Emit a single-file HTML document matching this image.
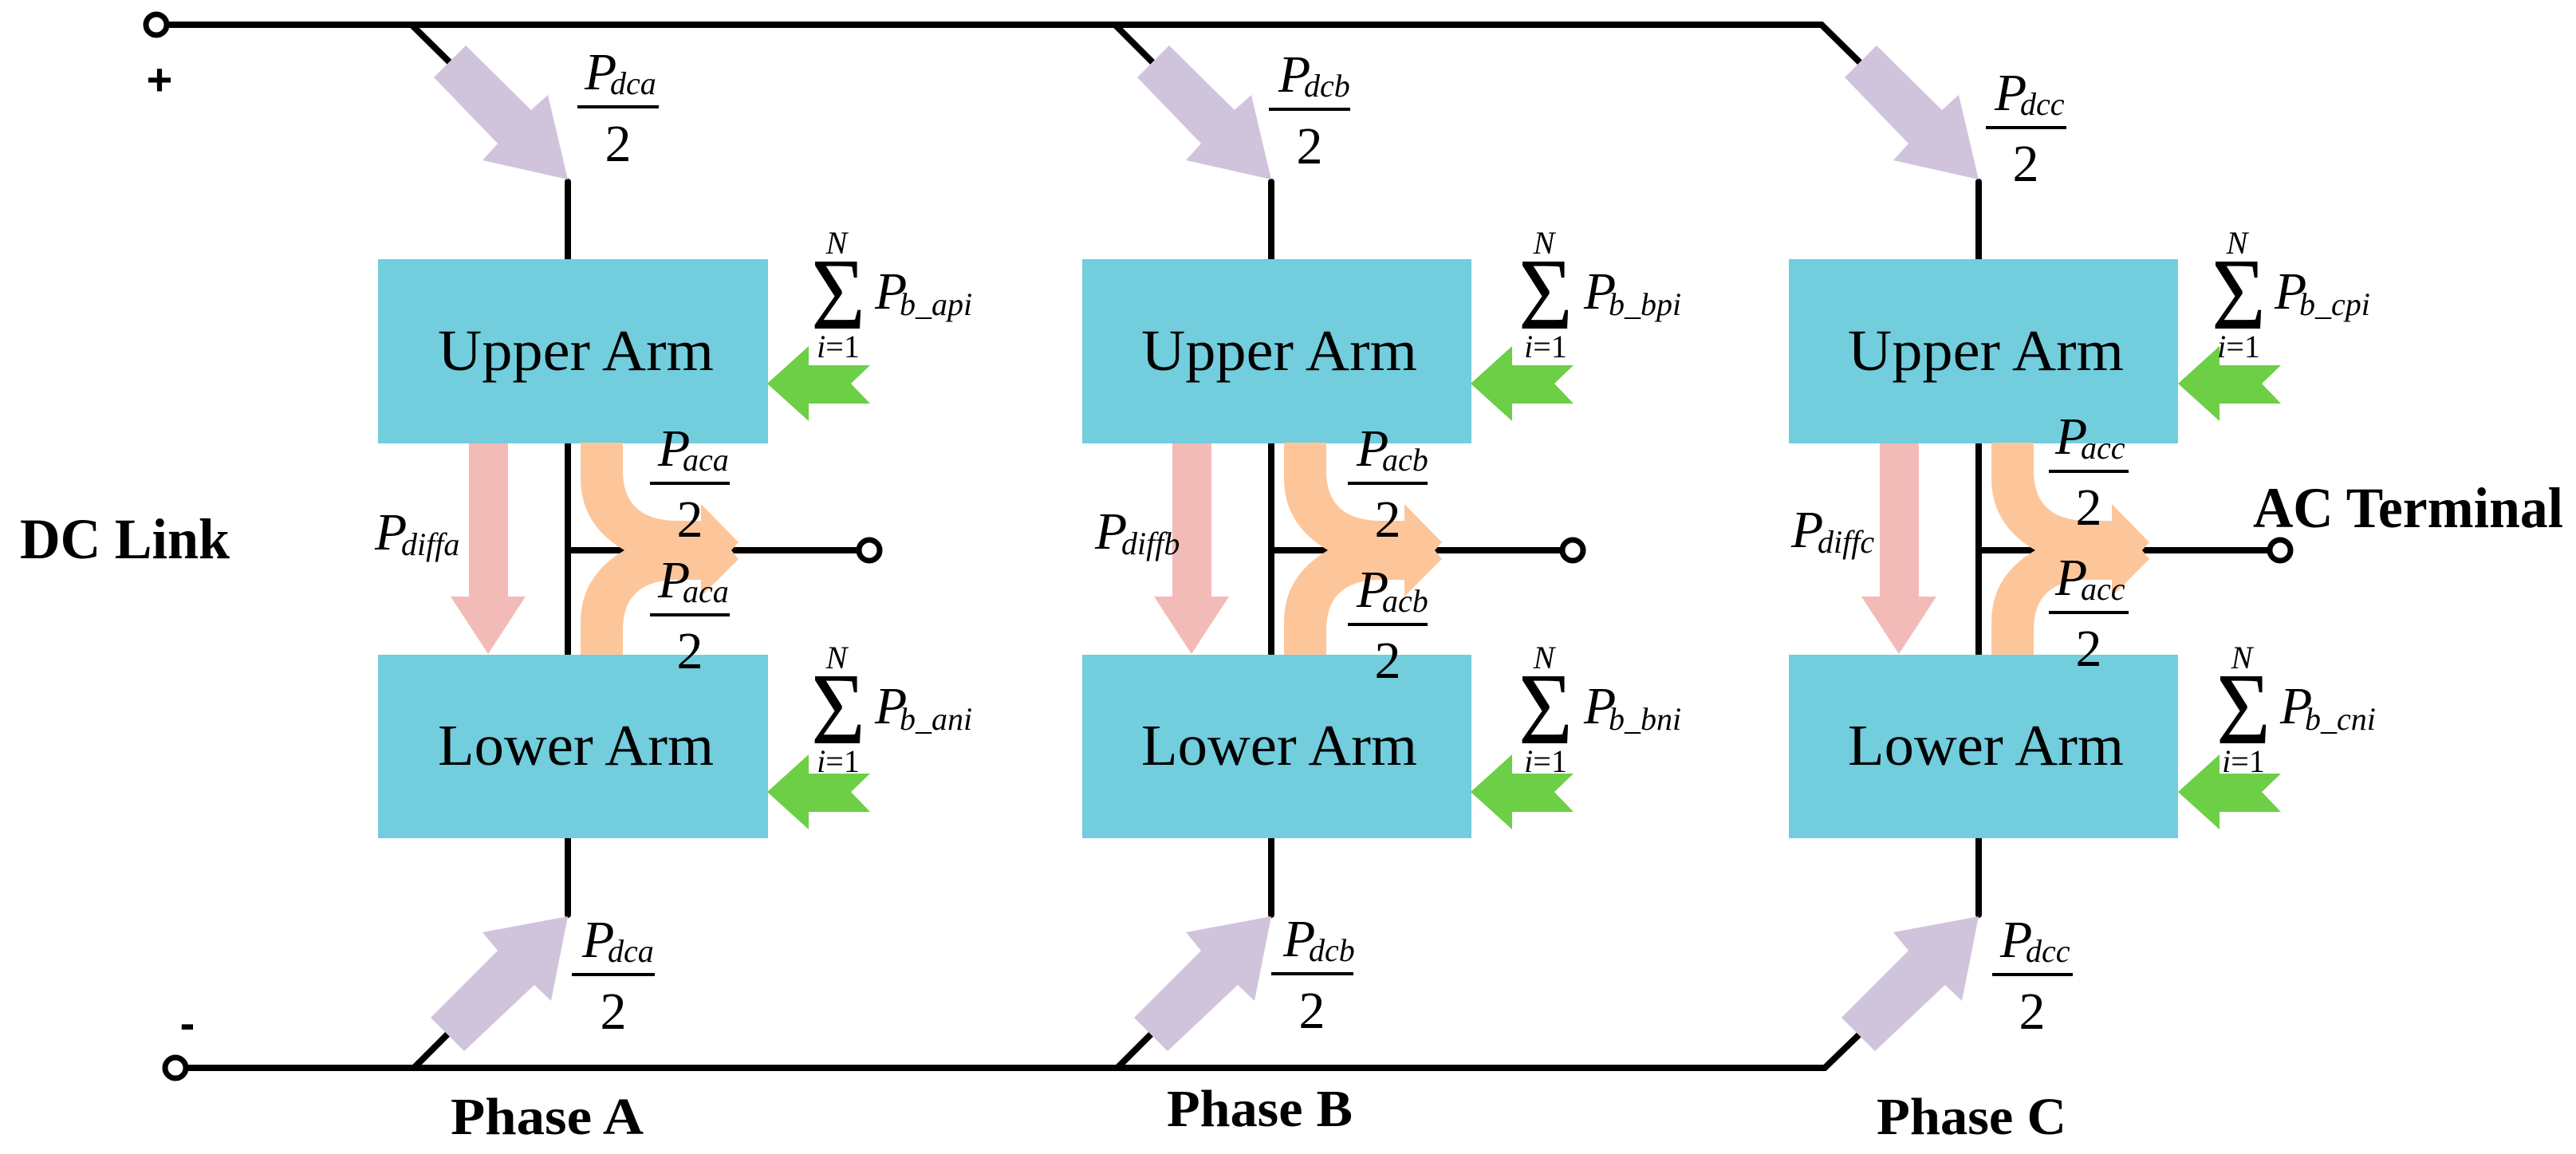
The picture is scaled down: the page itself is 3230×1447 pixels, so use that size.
<!DOCTYPE html>
<html><head><meta charset="utf-8"><style>
html,body{margin:0;padding:0;background:#fff}
svg{display:block}
.m{font-family:"Liberation Serif",serif;font-style:italic}
.r{font-family:"Liberation Serif",serif}
.b{font-family:"Liberation Serif",serif;font-weight:bold}
</style></head><body>
<svg width="3230" height="1447" viewBox="0 0 3230 1447" xmlns="http://www.w3.org/2000/svg">
<defs>
<g id="purT"><polygon points="584,57 666,138 687,119 712,225 605,201 624,180 544,97" fill="#D0C4DC"/></g>
<g id="purB"><polygon points="712,1149 605,1169 624,1192 540,1276 582,1318 670,1235 691,1255" fill="#D0C4DC"/></g>
<g id="pink"><polygon points="588,556 637,556 637,748 659,748 612,820 565,748 588,748" fill="#F2BBB8"/></g>
<g id="green"><polygon points="962,481 1014,434 1014,458 1091,458 1067,481 1091,506 1014,506 1014,528" fill="#6CCF45"/></g>
<g id="orange"><path d="M728,555 L781,555 L781,590 Q781,653 850,653 L879,653 L879,632 L926,680 L917,690 L926,701 L879,748 L879,727 L850,727 Q781,727 781,790 L781,821 L728,821 L728,780 Q728,722 783,690 Q728,658 728,600 Z" fill="#FDC69A"/></g>
</defs>

<!-- bus lines -->
<g stroke="#000" stroke-width="8" fill="none" stroke-linejoin="miter">
<polyline points="209,31 2284,31 2350,96"/>
<line x1="516" y1="31" x2="582" y2="96"/>
<line x1="1398" y1="31" x2="1463" y2="96"/>
<polyline points="233,1339 2288,1339 2350,1279"/>
<line x1="519" y1="1339" x2="582" y2="1276"/>
<line x1="1401" y1="1339" x2="1463" y2="1277"/>
</g>
<circle cx="196" cy="31" r="13" fill="#fff" stroke="#000" stroke-width="7"/>
<circle cx="220" cy="1339" r="13" fill="#fff" stroke="#000" stroke-width="7"/>
<text x="200" y="119" class="b" font-size="56" text-anchor="middle" style="font-family:'Liberation Sans',sans-serif;font-weight:bold">+</text>
<text x="235" y="1302" font-size="56" text-anchor="middle" style="font-family:'Liberation Sans',sans-serif;font-weight:bold">-</text>

<text x="25" y="700" class="b" font-size="72" textLength="263" lengthAdjust="spacingAndGlyphs">DC Link</text>
<text x="2825" y="661" class="b" font-size="72" textLength="389" lengthAdjust="spacingAndGlyphs">AC Terminal</text>

<!-- PHASES: offsets 0, 882, 1769 -->
<!-- Phase A -->
<g>
<g stroke="#000" stroke-width="8" stroke-linecap="round">
<line x1="712" y1="228" x2="712" y2="326"/>
<line x1="712" y1="553" x2="712" y2="820"/>
<line x1="712" y1="1050" x2="712" y2="1147"/>
<line x1="712" y1="690" x2="780" y2="690"/>
<line x1="920" y1="690" x2="1077" y2="690"/>
</g>
<circle cx="1090" cy="690" r="13" fill="#fff" stroke="#000" stroke-width="7"/>
<rect x="474" y="325" width="489" height="231" fill="#72CDDD"/>
<rect x="474" y="821" width="489" height="230" fill="#72CDDD"/>
<use href="#purT"/><use href="#purB"/><use href="#pink"/><use href="#orange"/>
<use href="#green"/><use href="#green" transform="translate(0,512)"/>
</g>
<g transform="translate(882,0)">
<g stroke="#000" stroke-width="8" stroke-linecap="round">
<line x1="712" y1="228" x2="712" y2="326"/>
<line x1="712" y1="553" x2="712" y2="820"/>
<line x1="712" y1="1050" x2="712" y2="1147"/>
<line x1="712" y1="690" x2="780" y2="690"/>
<line x1="920" y1="690" x2="1077" y2="690"/>
</g>
<circle cx="1090" cy="690" r="13" fill="#fff" stroke="#000" stroke-width="7"/>
<rect x="475" y="325" width="488" height="231" fill="#72CDDD"/>
<rect x="475" y="821" width="488" height="230" fill="#72CDDD"/>
<use href="#purT"/><use href="#purB"/><use href="#pink"/><use href="#orange"/>
<use href="#green"/><use href="#green" transform="translate(0,512)"/>
</g>
<g transform="translate(1769,0)">
<g stroke="#000" stroke-width="8" stroke-linecap="round">
<line x1="712" y1="228" x2="712" y2="326"/>
<line x1="712" y1="553" x2="712" y2="820"/>
<line x1="712" y1="1050" x2="712" y2="1147"/>
<line x1="712" y1="690" x2="780" y2="690"/>
<line x1="920" y1="690" x2="1077" y2="690"/>
</g>
<circle cx="1090" cy="690" r="13" fill="#fff" stroke="#000" stroke-width="7"/>
<rect x="474" y="325" width="488" height="231" fill="#72CDDD"/>
<rect x="474" y="821" width="488" height="230" fill="#72CDDD"/>
<use href="#purT"/><use href="#purB"/><use href="#pink"/><use href="#orange"/>
<use href="#green"/><use href="#green" transform="translate(0,512)"/>
</g>

<!-- Box labels -->
<g class="r" font-size="73" text-anchor="middle">
<text x="722" y="464" textLength="346" lengthAdjust="spacingAndGlyphs">Upper Arm</text>
<text x="722" y="959" textLength="346" lengthAdjust="spacingAndGlyphs">Lower Arm</text>
<text x="1604" y="464" textLength="346" lengthAdjust="spacingAndGlyphs">Upper Arm</text>
<text x="1604" y="959" textLength="346" lengthAdjust="spacingAndGlyphs">Lower Arm</text>
<text x="2490" y="464" textLength="346" lengthAdjust="spacingAndGlyphs">Upper Arm</text>
<text x="2490" y="959" textLength="346" lengthAdjust="spacingAndGlyphs">Lower Arm</text>
</g>

<!-- Phase labels -->
<g class="b" font-size="66">
<text x="565" y="1422" textLength="242" lengthAdjust="spacingAndGlyphs">Phase A</text>
<text x="1463" y="1412" textLength="233" lengthAdjust="spacingAndGlyphs">Phase B</text>
<text x="2353" y="1422" textLength="238" lengthAdjust="spacingAndGlyphs">Phase C</text>
</g>

<!-- Fractions -->
<g stroke="#000" stroke-width="4">
<line x1="724" y1="134" x2="826" y2="134"/>
<line x1="1591" y1="137" x2="1693" y2="137"/>
<line x1="2490" y1="160" x2="2591" y2="160"/>
<line x1="717" y1="1222" x2="821" y2="1222"/>
<line x1="1594" y1="1221" x2="1697" y2="1221"/>
<line x1="2498" y1="1222" x2="2599" y2="1222"/>
<line x1="815" y1="606" x2="915" y2="606"/>
<line x1="815" y1="771" x2="915" y2="771"/>
<line x1="1690" y1="606" x2="1790" y2="606"/>
<line x1="1690" y1="783" x2="1790" y2="783"/>
<line x1="2569" y1="591" x2="2669" y2="591"/>
<line x1="2569" y1="768" x2="2669" y2="768"/>
</g>
<g class="m" font-size="66">
<text x="733" y="112">P</text>
<text x="1603" y="115">P</text>
<text x="2501" y="138">P</text>
<text x="730" y="1200">P</text>
<text x="1609" y="1199">P</text>
<text x="2508" y="1200">P</text>
<text x="825" y="584">P</text>
<text x="825" y="749">P</text>
<text x="1701" y="584">P</text>
<text x="1701" y="761">P</text>
<text x="2577" y="569">P</text>
<text x="2577" y="746">P</text>
<text x="470" y="689">P</text>
<text x="1373" y="688">P</text>
<text x="2246" y="686">P</text>
</g>
<g class="m" font-size="40">
<text x="765" y="118">dca</text>
<text x="1635" y="121">dcb</text>
<text x="2533" y="144">dcc</text>
<text x="762" y="1206">dca</text>
<text x="1641" y="1205">dcb</text>
<text x="2540" y="1206">dcc</text>
<text x="856" y="590">aca</text>
<text x="856" y="755">aca</text>
<text x="1733" y="590">acb</text>
<text x="1733" y="767">acb</text>
<text x="2609" y="575">acc</text>
<text x="2609" y="752">acc</text>
<text x="503" y="696">diffa</text>
<text x="1406" y="695">diffb</text>
<text x="2279" y="693">diffc</text>
</g>
<g class="r" font-size="66" text-anchor="middle">
<text x="775" y="202">2</text>
<text x="1642" y="205">2</text>
<text x="2540" y="227">2</text>
<text x="769" y="1290">2</text>
<text x="1645" y="1289">2</text>
<text x="2548" y="1290">2</text>
<text x="865" y="673">2</text>
<text x="865" y="838">2</text>
<text x="1740" y="673">2</text>
<text x="1740" y="850">2</text>
<text x="2619" y="658">2</text>
<text x="2619" y="835">2</text>
</g>

<!-- Sums: sigma left x, y top -->
<g id="sums">
<!-- A upper -->
<g transform="translate(1017,0)">
<text x="32" y="318" class="m" font-size="40" text-anchor="middle">N</text>
<text x="0" y="412" class="r" font-size="128" textLength="68" lengthAdjust="spacingAndGlyphs">Σ</text>
<text x="34" y="448" class="r" font-size="40" text-anchor="middle"><tspan class="m">i</tspan>=1</text>
<text x="80" y="387" class="m" font-size="66">P</text>
<text x="111" y="395" class="m" font-size="40">b_api</text>
</g>
<g transform="translate(1017,520)">
<text x="32" y="318" class="m" font-size="40" text-anchor="middle">N</text>
<text x="0" y="412" class="r" font-size="128" textLength="68" lengthAdjust="spacingAndGlyphs">Σ</text>
<text x="34" y="448" class="r" font-size="40" text-anchor="middle"><tspan class="m">i</tspan>=1</text>
<text x="80" y="387" class="m" font-size="66">P</text>
<text x="111" y="395" class="m" font-size="40">b_ani</text>
</g>
<g transform="translate(1904,0)">
<text x="32" y="318" class="m" font-size="40" text-anchor="middle">N</text>
<text x="0" y="412" class="r" font-size="128" textLength="68" lengthAdjust="spacingAndGlyphs">Σ</text>
<text x="34" y="448" class="r" font-size="40" text-anchor="middle"><tspan class="m">i</tspan>=1</text>
<text x="82" y="387" class="m" font-size="66">P</text>
<text x="113" y="395" class="m" font-size="40">b_bpi</text>
</g>
<g transform="translate(1904,520)">
<text x="32" y="318" class="m" font-size="40" text-anchor="middle">N</text>
<text x="0" y="412" class="r" font-size="128" textLength="68" lengthAdjust="spacingAndGlyphs">Σ</text>
<text x="34" y="448" class="r" font-size="40" text-anchor="middle"><tspan class="m">i</tspan>=1</text>
<text x="82" y="387" class="m" font-size="66">P</text>
<text x="113" y="395" class="m" font-size="40">b_bni</text>
</g>
<g transform="translate(2773,0)">
<text x="32" y="318" class="m" font-size="40" text-anchor="middle">N</text>
<text x="0" y="412" class="r" font-size="128" textLength="68" lengthAdjust="spacingAndGlyphs">Σ</text>
<text x="34" y="448" class="r" font-size="40" text-anchor="middle"><tspan class="m">i</tspan>=1</text>
<text x="79" y="387" class="m" font-size="66">P</text>
<text x="110" y="395" class="m" font-size="40">b_cpi</text>
</g>
<g transform="translate(2779,520)">
<text x="32" y="318" class="m" font-size="40" text-anchor="middle">N</text>
<text x="0" y="412" class="r" font-size="128" textLength="68" lengthAdjust="spacingAndGlyphs">Σ</text>
<text x="34" y="448" class="r" font-size="40" text-anchor="middle"><tspan class="m">i</tspan>=1</text>
<text x="80" y="387" class="m" font-size="66">P</text>
<text x="111" y="395" class="m" font-size="40">b_cni</text>
</g>
</g>
</svg>
</body></html>
